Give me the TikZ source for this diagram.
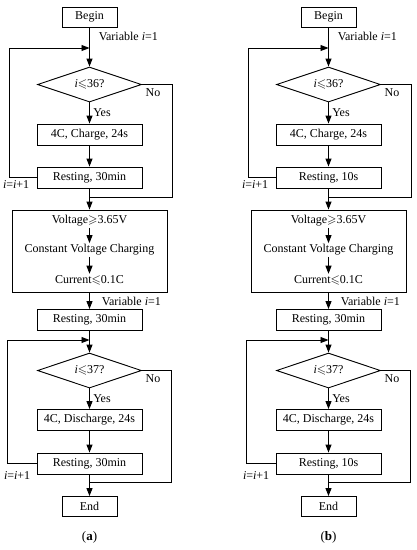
\documentclass[tikz,border=0pt]{standalone}
\usepackage{amsmath}
\usepackage{amssymb}
\usepackage{fontspec}
\setmainfont{Liberation Serif}
\usetikzlibrary{arrows.meta, positioning, shapes.geometric}

\begin{document}
\begin{tikzpicture}[x=1pt, y=-1pt, line width=0.9pt, font=\fontsize{12}{14}\selectfont,
  box/.style={draw, rectangle, minimum width=105pt, minimum height=21pt, inner sep=0pt},
  smallbox/.style={draw, rectangle, minimum width=55pt, minimum height=20pt, inner sep=0pt},
  cond/.style={draw, diamond, minimum width=104pt, minimum height=35pt, aspect=3, inner sep=0pt},
  flow/.style={-{Triangle[length=8pt,width=6pt]}}]
  \useasboundingbox (0,0) rectangle (416,550);

  % 两个流程图 (a) 和 (b)
  \foreach \pn/\dx/\rt in {a/0/30min, b/239/10s} {
    \begin{scope}[xshift=\dx]
    % 充电部分
    \node[smallbox] (begin\pn) at (89.5,17) {Begin};
    \node[cond] (dia\pn) at (89.5,84.5) {\textit{i}$\leqslant$36?};
    \node[box] (chg\pn) at (89.5,134.5) {4C, Charge, 24s};
    \node[box] (rst\pn) at (89.5,177.5) {Resting, \rt};
    \node[anchor=west] (var\pn) at (95,36) {Variable \textit{i}=1};
    \node[anchor=east] (inc\pn) at (33,185) {\textit{i}=\textit{i}+1};

    % 恒压充电
    \node[draw, minimum width=155pt, minimum height=82pt] (cv\pn) at (89.5,251) {};
    \node[inner sep=1pt] (volt\pn) at (89.5,221) {Voltage$\geqslant$3.65V};
    \node[inner sep=1pt] (cvc\pn) at (89.5,250) {Constant Voltage Charging};
    \node[inner sep=1pt] (cur\pn) at (89.5,280) {Current$\leqslant$0.1C};
    \node[box] (rest\pn) at (89.5,320) {Resting, 30min};
    \node[anchor=west] (varb\pn) at (98,301) {Variable \textit{i}=1};

    % 放电部分
    \node[cond] (dib\pn) at (89.5,370.5) {\textit{i}$\leqslant$37?};
    \node[box] (dis\pn) at (89.5,420) {4C, Discharge, 24s};
    \node[box] (rsd\pn) at (89.5,463.5) {Resting, \rt};
    \node[anchor=east] (incb\pn) at (34,476) {\textit{i}=\textit{i}+1};
    \node[smallbox] (end\pn) at (89.5,506.5) {End};
    \node (cap\pn) at (89.5,537) {\fontsize{13}{15}\selectfont(\textbf{\pn})};

    % 汇合点
    \coordinate (jt\pn) at (89.5,48);
    \coordinate (jn\pn) at (89.5,197);
    \coordinate (jb\pn) at (89.5,340);
    \coordinate (je\pn) at (89.5,482);

    % 连线
    \draw[flow] (begin\pn) -- (dia\pn);
    \draw[flow] (dia\pn) -- node[right] {Yes} (chg\pn);
    \draw[flow] (chg\pn) -- (rst\pn);
    \draw[flow] (rst\pn) -- (cv\pn);
    \draw[flow] (rst\pn.west) -- ++(-27,0) |- (jt\pn);
    \draw (dia\pn.east) node[below right] {No} -- ++(30,0) |- (jn\pn);
    \draw[flow] (volt\pn) -- (cvc\pn);
    \draw[flow] (cvc\pn) -- (cur\pn);
    \draw[flow] (cv\pn) -- (rest\pn);
    \draw[flow] (rest\pn) -- (dib\pn);
    \draw[flow] (dib\pn) -- node[right] {Yes} (dis\pn);
    \draw[flow] (dis\pn) -- (rsd\pn);
    \draw[flow] (rsd\pn) -- (end\pn);
    \draw[flow] (rsd\pn.west) -- ++(-29,0) |- (jb\pn);
    \draw (dib\pn.east) node[below right] {No} -- ++(29,0) |- (je\pn);
    \end{scope}
  }
\end{tikzpicture}
\end{document}
